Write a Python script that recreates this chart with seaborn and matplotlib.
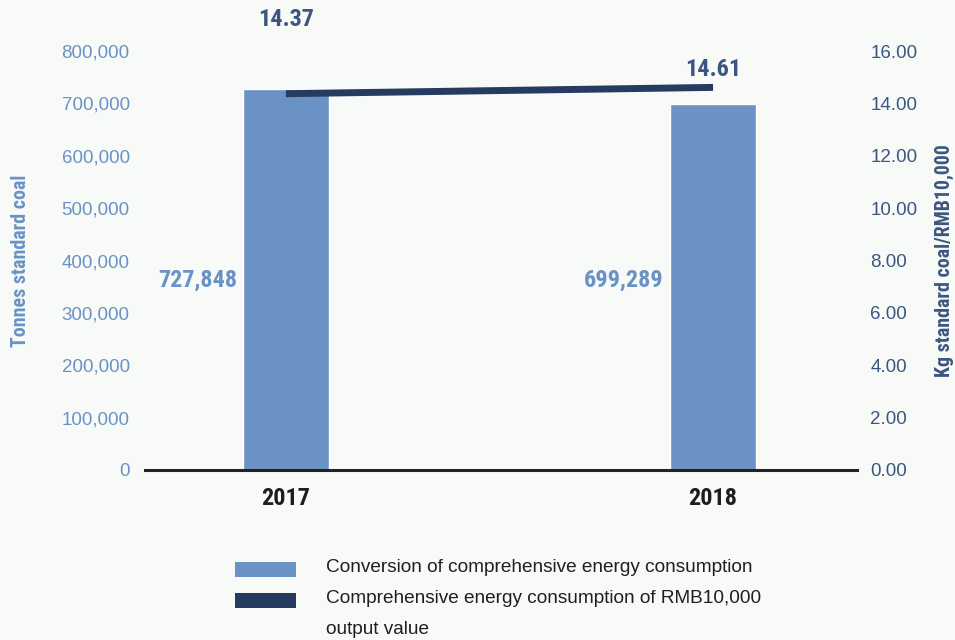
import matplotlib
matplotlib.use("Agg")
import matplotlib.pyplot as plt
import matplotlib.ticker as mticker
from matplotlib.patches import Rectangle
from matplotlib import font_manager
import pandas as pd
import seaborn as sns

# Data
years = ["2017", "2018"]
energy_total = [727848, 699289]          # tonnes standard coal
energy_intensity = [14.37, 14.61]        # kg standard coal / RMB10,000
left_ticks = [0, 100000, 200000, 300000, 400000, 500000, 600000, 700000, 800000]
right_ticks = [0, 2, 4, 6, 8, 10, 12, 14, 16]
legend_labels = ["Conversion of comprehensive energy consumption",
                 "Comprehensive energy consumption of RMB10,000\noutput value"]

BAR_C = "#6a92c5"
LINE_C = "#263b60"
LEFT_TXT = "#6a92c5"
RIGHT_TXT = "#3b5680"
SANS = ["Liberation Sans", "DejaVu Sans"]

sns.set_theme(style="white")
plt.rcParams["font.family"] = SANS

# Condensed bold face for headline numbers and axis titles
NARROW = font_manager.FontProperties(family=["Roboto Condensed", "DejaVu Sans"],
                                     stretch="condensed", weight="bold")


def narrow(size):
    fp = NARROW.copy()
    fp.set_size(size)
    return fp


df = pd.DataFrame({"year": years, "total": energy_total, "intensity": energy_intensity})

fig = plt.figure(figsize=(9.55, 6.4), dpi=100, facecolor="#f7faf6")
ax = fig.add_axes([145 / 955, 1 - 470 / 640, 712 / 955, 419 / 640])
ax.set_facecolor("none")

sns.barplot(data=df, x="year", y="total", color=BAR_C, width=0.2,
            saturation=1, ax=ax, zorder=2)

ax.set_ylim(0, 800000)
ax.set_xlim(-0.33, 1.337)
ax.set_yticks(left_ticks)
ax.yaxis.set_major_formatter(mticker.FuncFormatter(lambda v, p: f"{int(v):,}"))
ax.tick_params(axis="y", length=0, pad=11, labelsize=13.5, labelcolor=LEFT_TXT)
ax.tick_params(axis="x", length=0, pad=12)
for lbl in ax.get_xticklabels():
    lbl.set_fontproperties(narrow(17.5))
    lbl.set_color("#1e1e1e")
for s in ["top", "left", "right"]:
    ax.spines[s].set_visible(False)
ax.spines["bottom"].set_color("#222222")
ax.spines["bottom"].set_linewidth(2.2)
ax.spines["bottom"].set_zorder(5)
ax.set_xlabel("")
ax.set_ylabel("Tonnes standard coal", color=LEFT_TXT, fontproperties=narrow(14.3))
ax.yaxis.set_label_coords(-0.162, 0.5)

# Bar value labels, to the left of each bar
for i, v in enumerate(energy_total):
    ax.text(i - 0.115, 362000, f"{v:,}", ha="right", va="center",
            color=LEFT_TXT, fontproperties=narrow(17.5))

# Secondary axis: intensity line
ax2 = ax.twinx()
ax2.set_facecolor("none")
sns.lineplot(data=df, x="year", y="intensity", color=LINE_C, linewidth=5,
             ax=ax2, zorder=3, solid_capstyle="butt")
ax2.set_ylim(0, 16)
ax2.set_xlim(-0.33, 1.337)
ax2.set_yticks(right_ticks)
ax2.yaxis.set_major_formatter(mticker.FormatStrFormatter("%.2f"))
ax2.tick_params(axis="y", length=0, pad=9.5, labelsize=13.5, labelcolor=RIGHT_TXT)
for s in ["top", "left", "right", "bottom"]:
    ax2.spines[s].set_visible(False)
ax2.set_ylabel("Kg standard coal/RMB10,000", color=RIGHT_TXT, fontproperties=narrow(14.3))
ax2.yaxis.set_label_coords(1.11, 0.5)

ax2.text(0, energy_intensity[0] + 2.4, f"{energy_intensity[0]:.2f}", ha="center",
         va="bottom", color=RIGHT_TXT, fontproperties=narrow(17.5))
ax2.text(1, energy_intensity[1] + 0.25, f"{energy_intensity[1]:.2f}", ha="center",
         va="bottom", color=RIGHT_TXT, fontproperties=narrow(17.5))

# Legend drawn as swatches with labels below the plot
swatch_colors = [BAR_C, LINE_C]
swatch_y = [562, 593]
for c, y0, lab in zip(swatch_colors, swatch_y, legend_labels):
    fig.add_artist(Rectangle((235 / 955, 1 - (y0 + 15) / 640), 61 / 955, 15 / 640,
                             transform=fig.transFigure, facecolor=c, edgecolor="none"))
    fig.text(326 / 955, 1 - (y0 - 3) / 640, lab, ha="left", va="top",
             fontsize=13.7, color="#1f1f1f", linespacing=2.1)

fig.savefig("out.png", dpi=100, facecolor=fig.get_facecolor())
